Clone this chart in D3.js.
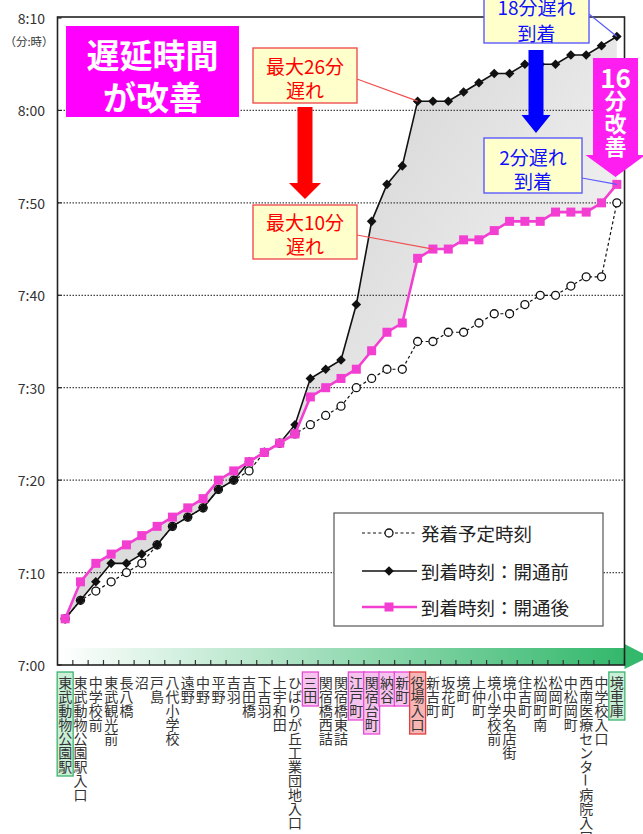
<html>
<head>
<meta charset="utf-8">
<script src="https://d3js.org/d3.v7.min.js"></script>
<style>
    body { margin: 0; background: #fff; }
    text { font-family: "Noto Sans CJK JP", "Noto Sans", sans-serif; }
</style>
</head>
<body>
<svg id="chart" width="643" height="834"></svg>
<script>
    // stops along the route (x axis)
    const stations = ["東武動物公園駅", "東武動物公園駅入口", "中学校前", "東武観光前", "長八橋", "沼", "戸島",
        "八代小学校", "遠野", "中野", "平野", "吉羽", "吉田橋", "下吉羽", "上宇和田", "ひばりが丘工業団地入口",
        "三田", "関宿橋西詰", "関宿橋東詰", "江戸町", "関宿台町", "納谷", "新町", "役場入口", "新吉町", "坂花町",
        "境町", "上仲町", "境小学校前", "境中央名店街", "住吉町", "松岡町南", "松岡町", "中松岡町",
        "西南医療センター病院入口", "中学校入口", "境車庫"];

    // 発着予定時刻
    const scheduled = ["7:05", "7:07", "7:08", "7:09", "7:10", "7:11", "7:13", "7:15", "7:16", "7:17", "7:19", "7:20",
        "7:21", "7:23", "7:24", "7:25", "7:26", "7:27", "7:28", "7:30", "7:31", "7:32", "7:32", "7:35", "7:35", "7:36",
        "7:36", "7:37", "7:38", "7:38", "7:39", "7:40", "7:40", "7:41", "7:42", "7:42", "7:50"];
    // 到着時刻：開通前
    const beforeOpen = ["7:05", "7:07", "7:09", "7:11", "7:11", "7:12", "7:13", "7:15", "7:16", "7:17", "7:19", "7:20",
        "7:22", "7:23", "7:24", "7:26", "7:31", "7:32", "7:33", "7:39", "7:48", "7:52", "7:54", "8:01", "8:01", "8:01",
        "8:02", "8:03", "8:04", "8:04", "8:05", "8:05", "8:05", "8:06", "8:06", "8:07", "8:08"];
    // 到着時刻：開通後
    const afterOpen = ["7:05", "7:09", "7:11", "7:12", "7:13", "7:14", "7:15", "7:16", "7:17", "7:18", "7:20", "7:21",
        "7:22", "7:23", "7:24", "7:25", "7:29", "7:30", "7:31", "7:32", "7:34", "7:36", "7:37", "7:44", "7:45", "7:45",
        "7:46", "7:46", "7:47", "7:48", "7:48", "7:48", "7:49", "7:49", "7:49", "7:50", "7:52"];

    const yTicks = ["7:00", "7:10", "7:20", "7:30", "7:40", "7:50", "8:00", "8:10"];

    const greenStops = ["東武動物公園駅", "境車庫"];
    const pinkStops = ["三田", "江戸町", "関宿台町", "納谷", "新町"];
    const redStops = ["役場入口"];

    const magenta = "#f23fd2";

    function mins(t) {
        let p = t.split(":");
        return +p[0] * 60 + +p[1];
    }

    const svg = d3.select("#chart");
    const plotL = 57.5, plotR = 624.5, plotT = 18, plotB = 665;

    const x = d3.scaleBand().domain(stations).range([plotL, plotR]);
    const cx = (s) => x(s) + x.bandwidth() / 2;
    const y = d3.scaleLinear().domain([mins("7:00"), mins("8:10")]).range([plotB, plotT]);

    const defs = svg.append("defs");
    let g1 = defs.append("linearGradient").attr("id", "gapFill")
        .attr("x1", 0).attr("y1", 0.15).attr("x2", 1).attr("y2", 0.85);
    g1.append("stop").attr("offset", "0%").attr("stop-color", "#c2c2c2");
    g1.append("stop").attr("offset", "100%").attr("stop-color", "#ffffff");
    let g2 = defs.append("linearGradient").attr("id", "band")
        .attr("x1", 0).attr("y1", 0).attr("x2", 1).attr("y2", 0);
    g2.append("stop").attr("offset", "0%").attr("stop-color", "#ffffff");
    g2.append("stop").attr("offset", "100%").attr("stop-color", "#33b86c");

    // shaded gap between before/after
    let gap = stations.map((s, i) => [cx(s), y(mins(beforeOpen[i]))])
        .concat(stations.map((s, i) => [cx(s), y(mins(afterOpen[i]))]).reverse());
    svg.append("path")
        .attr("d", "M" + gap.join("L") + "Z")
        .attr("fill", "url(#gapFill)");

    // green band along the x axis
    svg.append("rect")
        .attr("x", plotL).attr("y", plotB - 17).attr("width", plotR - plotL).attr("height", 17)
        .attr("fill", "url(#band)");
    svg.append("path")
        .attr("d", "M" + plotR + "," + (plotB - 21) + "L" + (plotR + 25) + "," + (plotB - 8) + "L" + plotR + "," + (plotB + 4) + "Z")
        .attr("fill", "#33b86c");

    // gridlines
    yTicks.slice(1, -1).forEach(t => {
        svg.append("line")
            .attr("x1", plotL).attr("x2", plotR)
            .attr("y1", y(mins(t))).attr("y2", y(mins(t)))
            .attr("stroke", "#444").attr("stroke-width", 1.3)
            .attr("stroke-dasharray", "1.5,1.5");
    });

    // y labels
    yTicks.forEach(t => {
        svg.append("text")
            .attr("x", 45).attr("y", y(mins(t)))
            .attr("text-anchor", "end").attr("dominant-baseline", "central")
            .attr("font-size", 14).attr("fill", "#333")
            .text(t);
        svg.append("line")
            .attr("x1", plotL).attr("x2", plotL + 4)
            .attr("y1", y(mins(t))).attr("y2", y(mins(t)))
            .attr("stroke", "#222").attr("stroke-width", 1.2);
    });
    svg.append("text")
        .attr("x", 29).attr("y", 41)
        .attr("text-anchor", "middle").attr("dominant-baseline", "central")
        .attr("font-size", 11.5).attr("fill", "#333")
        .text("（分:時）");

    // x ticks at stop boundaries
    stations.forEach(s => {
        svg.append("line")
            .attr("x1", x(s) + x.bandwidth()).attr("x2", x(s) + x.bandwidth())
            .attr("y1", plotB).attr("y2", plotB - 5)
            .attr("stroke", "#333").attr("stroke-width", 1.2);
    });

    // frame
    svg.append("rect")
        .attr("x", plotL).attr("y", plotT - 1).attr("width", plotR - plotL).attr("height", plotB - plotT + 1)
        .attr("fill", "none").attr("stroke", "#222").attr("stroke-width", 1.6);

    // stop names, stacked one character per row
    stations.forEach(s => {
        let xc = cx(s);
        let chars = Array.from(s);
        let box = null;
        if (greenStops.includes(s)) box = ["#3cb371", "#c9efd7"];
        if (pinkStops.includes(s)) box = ["#e84ad6", "#f6c3ef"];
        if (redStops.includes(s)) box = ["#e04040", "#f7b6b6"];
        if (box) {
            svg.append("rect")
                .attr("x", xc - 8).attr("y", 672)
                .attr("width", 16).attr("height", chars.length * 14 + 6)
                .attr("fill", box[1]).attr("stroke", box[0]).attr("stroke-width", 1.3);
        }
        chars.forEach((c, i) => {
            let cy = 682 + i * 14;
            let t = svg.append("text")
                .attr("x", xc).attr("y", cy)
                .attr("text-anchor", "middle").attr("dominant-baseline", "central")
                .attr("font-size", 14).attr("fill", "#333")
                .text(c);
            if (c === "ー") t.attr("transform", "rotate(90," + xc + "," + cy + ")");
        });
    });

    const line = d3.line().x(d => d[0]).y(d => d[1]);
    const pts = (arr) => stations.map((s, i) => [cx(s), y(mins(arr[i]))]);
    const diamond = "M0,-4.8L4.8,0L0,4.8L-4.8,0Z";

    // scheduled
    svg.append("path").attr("d", line(pts(scheduled)))
        .attr("fill", "none").attr("stroke", "#111").attr("stroke-width", 1.2)
        .attr("stroke-dasharray", "3,2.5");
    pts(scheduled).forEach(p => {
        svg.append("circle").attr("cx", p[0]).attr("cy", p[1]).attr("r", 4)
            .attr("fill", "#fff").attr("stroke", "#111").attr("stroke-width", 1.3);
    });

    // before
    svg.append("path").attr("d", line(pts(beforeOpen)))
        .attr("fill", "none").attr("stroke", "#111").attr("stroke-width", 1.6);
    pts(beforeOpen).forEach(p => {
        svg.append("path").attr("d", diamond)
            .attr("transform", "translate(" + p[0] + "," + p[1] + ")")
            .attr("fill", "#111");
    });

    // after
    svg.append("path").attr("d", line(pts(afterOpen)))
        .attr("fill", "none").attr("stroke", magenta).attr("stroke-width", 2.6);
    pts(afterOpen).forEach(p => {
        svg.append("rect").attr("x", p[0] - 4.5).attr("y", p[1] - 4.5)
            .attr("width", 9).attr("height", 9).attr("fill", magenta);
    });

    // legend
    svg.append("rect").attr("x", 334).attr("y", 513).attr("width", 269).attr("height", 113)
        .attr("fill", "#fff").attr("stroke", "#555").attr("stroke-width", 1.2);
    const legendRows = [
        { label: "発着予定時刻", y: 533 },
        { label: "到着時刻：開通前", y: 571 },
        { label: "到着時刻：開通後", y: 607 }];
    legendRows.forEach((r, i) => {
        let l = svg.append("line").attr("x1", 362).attr("x2", 417).attr("y1", r.y).attr("y2", r.y);
        if (i === 0) {
            l.attr("stroke", "#111").attr("stroke-width", 1.2).attr("stroke-dasharray", "3,2.5");
            svg.append("circle").attr("cx", 389).attr("cy", r.y).attr("r", 4)
                .attr("fill", "#fff").attr("stroke", "#111").attr("stroke-width", 1.3);
        } else if (i === 1) {
            l.attr("stroke", "#111").attr("stroke-width", 1.6);
            svg.append("path").attr("d", diamond).attr("transform", "translate(389," + r.y + ")").attr("fill", "#111");
        } else {
            l.attr("stroke", magenta).attr("stroke-width", 2.6);
            svg.append("rect").attr("x", 384.5).attr("y", r.y - 4.5).attr("width", 9).attr("height", 9).attr("fill", magenta);
        }
        svg.append("text").attr("x", 421).attr("y", r.y)
            .attr("dominant-baseline", "central").attr("font-size", 18.5).attr("fill", "#222")
            .text(r.label);
    });

    // callout helper
    function callout(x0, y0, w, h, lines, ly, stroke, color, target) {
        if (target) {
            svg.append("line").attr("x1", target[0]).attr("y1", target[1])
                .attr("x2", target[2]).attr("y2", target[3])
                .attr("stroke", stroke).attr("stroke-width", 1.2);
        }
        svg.append("rect").attr("x", x0).attr("y", y0).attr("width", w).attr("height", h)
            .attr("fill", "#ffffcc").attr("stroke", stroke).attr("stroke-width", 1.4);
        lines.forEach((t, i) => {
            svg.append("text").attr("x", x0 + w / 2).attr("y", ly[i])
                .attr("text-anchor", "middle").attr("dominant-baseline", "central")
                .attr("font-size", 19).attr("fill", color).text(t);
        });
    }

    function downArrow(xc, y0, y1, shaftW, headW, headH, color) {
        let p = [[xc - shaftW / 2, y0], [xc + shaftW / 2, y0], [xc + shaftW / 2, y1 - headH], [xc + headW / 2, y1 - headH],
            [xc, y1], [xc - headW / 2, y1 - headH], [xc - shaftW / 2, y1 - headH]];
        return svg.append("path").attr("d", "M" + p.join("L") + "Z").attr("fill", color);
    }

    let i23 = stations.indexOf("役場入口"), i24 = stations.indexOf("新吉町"), iLast = stations.length - 1;

    callout(253, 48, 104, 55, ["最大26分", "遅れ"], [65, 89], "#f05050", "#ff0000",
        [357, 79, cx(stations[i23]), y(mins(beforeOpen[i23]))]);
    callout(253, 205, 104, 54, ["最大10分", "遅れ"], [221, 245], "#f05050", "#ff0000",
        [357, 235, cx(stations[i24]), y(mins(afterOpen[i24]))]);
    callout(484, -14, 105, 57, ["18分遅れ", "到着"], [6, 32], "#5a5aff", "#1010ff",
        [589, 14, cx(stations[iLast]), y(mins(beforeOpen[iLast]))]);
    callout(484, 138, 98, 55, ["2分遅れ", "到着"], [156, 180], "#5a5aff", "#1010ff",
        [582, 178, cx(stations[iLast]), y(mins(afterOpen[iLast]))]);

    downArrow(305, 107, 199, 15, 32, 16, "#ff0000");
    downArrow(536, 50, 133, 15, 29, 18, "#0000ff");

    // 16分改善
    downArrow(615.5, 58, 177, 45, 60, 22, "#ff1ef0");
    [["16", 76, 26], ["分", 99, 22], ["改", 122, 22], ["善", 145, 22]].forEach(d => {
        svg.append("text").attr("x", 615.5).attr("y", d[1])
            .attr("text-anchor", "middle").attr("dominant-baseline", "central")
            .attr("font-size", d[2]).attr("font-weight", "bold").attr("fill", "#fff").text(d[0]);
    });

    // 遅延時間が改善
    svg.append("rect").attr("x", 66).attr("y", 26).attr("width", 173).attr("height", 91).attr("fill", "#ff00ff");
    [["遅延時間", 54], ["が改善", 96]].forEach(d => {
        svg.append("text").attr("x", 152.5).attr("y", d[1])
            .attr("text-anchor", "middle").attr("dominant-baseline", "central")
            .attr("font-size", 33).attr("font-weight", "bold").attr("fill", "#fff").text(d[0]);
    });
</script>
</body>
</html>
